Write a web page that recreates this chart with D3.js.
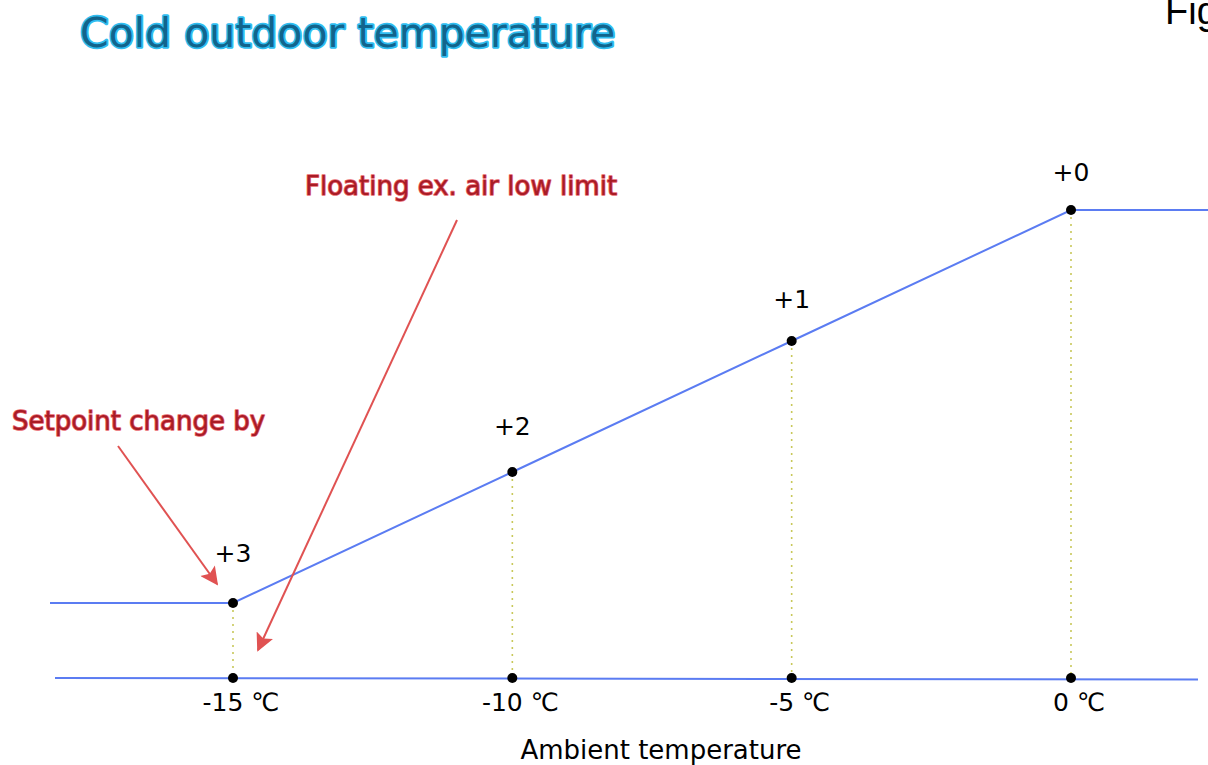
<!DOCTYPE html>
<html>
<head>
<meta charset="utf-8">
<script src="https://cdn.jsdelivr.net/npm/d3@7"></script>
<style>
  html, body { margin: 0; padding: 0; background: #fff; overflow: hidden; }
  svg { display: block; }
</style>
</head>
<body>
<svg id="chart" width="1208" height="765"></svg>
<script>
// ---- data ----
const temps = [-15, -10, -5, 0];
const changes = [3, 2, 1, 0];
const changeLabels = ["+3", "+2", "+1", "+0"];
const tickLabels = ["-15 \u2103", "-10 \u2103", "-5 \u2103", "0 \u2103"];
const titleText = "Cold outdoor temperature";
const axisTitle = "Ambient temperature";
const annotations = ["Setpoint change by", "Floating ex. air low limit"];

const svg = d3.select("#chart");
const font = "'DejaVu Sans', Verdana, sans-serif";

const x = d3.scaleLinear().domain([-15, 0]).range([233, 1071]);
const y = d3.scaleLinear().domain([0, 3]).range([210, 603]);
const baseY = 678;

// arrow marker
const defs = svg.append("defs");
defs.append("marker")
  .attr("id", "arrow").attr("viewBox", "0 0 10 10")
  .attr("refX", 9).attr("refY", 5)
  .attr("markerWidth", 22).attr("markerHeight", 18)
  .attr("markerUnits", "userSpaceOnUse")
  .attr("orient", "auto")
  .append("path").attr("d", "M0,0 L10,5 L0,10 L2,5 Z").attr("fill", "#e05252");

// title
svg.append("text").attr("x", 80).attr("y", 47)
  .attr("font-family", font).attr("font-size", 41)
  .attr("fill", "#12648c").attr("stroke", "#30bdf0").attr("stroke-width", 3.5)
  .attr("stroke-linejoin", "round").attr("paint-order", "stroke")
  .text(titleText);

svg.append("text").attr("x", 1165).attr("y", 24)
  .attr("font-family", "'Liberation Sans', Arial, sans-serif").attr("font-size", 38)
  .attr("fill", "#000").text("Figure");

// dotted verticals
svg.append("g").selectAll("line").data(temps).join("line")
  .attr("x1", d => x(d)).attr("x2", d => x(d))
  .attr("y1", (d, i) => y(changes[i])).attr("y2", baseY)
  .attr("stroke", "#c8c85a").attr("stroke-width", 1.6)
  .attr("stroke-dasharray", "2,5");

// baseline
svg.append("line").attr("x1", 55).attr("x2", 1198)
  .attr("y1", baseY).attr("y2", baseY + 1.5)
  .attr("stroke", "#5b7cf2").attr("stroke-width", 2);

// setpoint curve
const pts = temps.map((t, i) => [x(t), y(changes[i])]);
const curve = [[50, y(changes[0])], ...pts, [1208, y(changes[changes.length - 1])]];
svg.append("path").attr("d", d3.line()(curve))
  .attr("fill", "none").attr("stroke", "#5b7cf2").attr("stroke-width", 2);

// dots
svg.append("g").selectAll("circle").data(pts).join("circle")
  .attr("cx", d => d[0]).attr("cy", d => d[1]).attr("r", 5).attr("fill", "#000");
svg.append("g").selectAll("circle").data(temps).join("circle")
  .attr("cx", d => x(d)).attr("cy", baseY).attr("r", 5).attr("fill", "#000");

// change labels
svg.append("g").selectAll("text").data(changeLabels).join("text")
  .attr("x", (d, i) => x(temps[i]))
  .attr("y", (d, i) => y(changes[i]) - 29 - 4 * changes[i])
  .attr("text-anchor", "middle").attr("font-family", font).attr("font-size", 25)
  .attr("fill", "#000").text(d => d);

// tick labels
svg.append("g").selectAll("text").data(tickLabels).join("text")
  .attr("x", (d, i) => x(temps[i]) + 8)
  .attr("y", baseY + 33)
  .attr("text-anchor", "middle").attr("font-family", font).attr("font-size", 25)
  .attr("fill", "#000").text(d => d);

svg.append("text").attr("x", 661).attr("y", 759)
  .attr("text-anchor", "middle").attr("font-family", font).attr("font-size", 26)
  .attr("fill", "#000").text(axisTitle);

// annotations
const redText = (t, xx, yy) => svg.append("text").attr("x", xx).attr("y", yy)
  .attr("font-family", font).attr("font-size", 26)
  .attr("fill", "#a81c26").attr("stroke", "#e8646c").attr("stroke-width", 1.6)
  .attr("stroke-linejoin", "round").attr("paint-order", "stroke").text(t);
redText(annotations[0], 12, 430);
redText(annotations[1], 305, 195);

svg.append("line").attr("x1", 118).attr("y1", 446).attr("x2", 217).attr("y2", 584)
  .attr("stroke", "#e05252").attr("stroke-width", 2).attr("marker-end", "url(#arrow)");
svg.append("line").attr("x1", 457).attr("y1", 220).attr("x2", 258).attr("y2", 650)
  .attr("stroke", "#e05252").attr("stroke-width", 2).attr("marker-end", "url(#arrow)");
</script>
</body>
</html>
